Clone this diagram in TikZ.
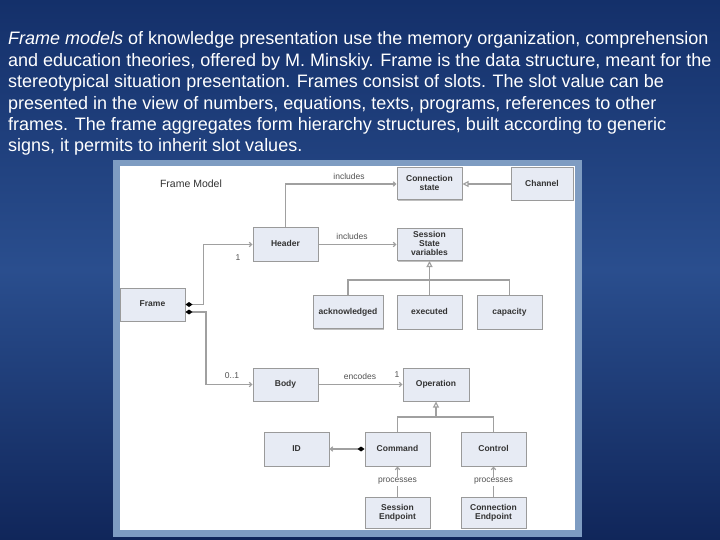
\documentclass[tikz,border=0pt]{standalone}
\usepackage{fontspec}
\setmainfont{Liberation Sans}
\usetikzlibrary{arrows.meta,shadows}
\definecolor{bgtop}{HTML}{14306A}
\definecolor{bgmid}{HTML}{2A4E8E}
\definecolor{bgbot}{HTML}{10265A}
\definecolor{panelborder}{HTML}{7E9CC2}
\definecolor{boxfill}{HTML}{E7EBF4}
\definecolor{boxline}{HTML}{9A9A9A}
\definecolor{connline}{HTML}{A0A0A0}
\definecolor{boxtext}{HTML}{333333}
\tikzset{
  umlbox/.style={draw=boxline, line width=1pt, fill=boxfill, align=center,
    inner sep=1pt, text=boxtext, font=\fontsize{8.5}{9.3}\selectfont\bfseries,
    execute at begin node={\vphantom{Ah}}, execute at end node={\vphantom{g}},
    drop shadow={shadow xshift=1pt, shadow yshift=-1pt, fill=black!25, opacity=1}},
  conn/.style={draw=connline, line width=1.1pt},
  lbl/.style={text=boxtext!85, font=\fontsize{8.5}{9.5}\selectfont, inner sep=1pt},
  mainline/.style={anchor=base west, text=white, inner sep=0pt, font=\fontsize{18}{21}\selectfont},
  smallarr/.tip={Straight Barb[length=2.5pt,width=4.5pt]},
  genarr/.tip={Triangle[open,length=6pt,width=6pt,fill=white]},
  comparr/.tip={Diamond[length=7pt,width=5pt,fill=black,color=black]}
}
\begin{document}
\begin{tikzpicture}[x=1pt,y=-1pt]
\useasboundingbox (0,0) rectangle (720,540);
\shade[top color=bgtop, bottom color=bgbot, middle color=bgmid] (0,0) rectangle (720,540);
% text
\node[mainline] (t1) at (8,45) {\textit{Frame models} of knowledge presentation use the memory organization, comprehension};
\node[mainline] (t2) at (8,66.4) {and education theories, offered by M. Minskiy. Frame is the data structure, meant for the};
\node[mainline] (t3) at (8,87.8) {stereotypical situation presentation. Frames consist of slots. The slot value can be};
\node[mainline] (t4) at (8,109.2) {presented in the view of numbers, equations, texts, programs, references to other};
\node[mainline] (t5) at (8,130.6) {frames. The frame aggregates form hierarchy structures, built according to generic};
\node[mainline] (t6) at (8,152) {signs, it permits to inherit slot values.};
% panel
\fill[panelborder] (113,160) rectangle (582,537);
\fill[white] (120,166) rectangle (575,530);
\node[lbl, font=\fontsize{10.5}{12}\selectfont, text=boxtext] (title) at (191,184) {Frame Model};
% boxes
\node[umlbox, minimum width=65, minimum height=32] (cs) at (429.5,184) {Connection\\state};
\node[umlbox, minimum width=62, minimum height=33] (ch) at (542,184) {Channel};
\node[umlbox, minimum width=65, minimum height=33] (header) at (285.5,244.5) {Header};
\node[umlbox, minimum width=65, minimum height=32] (ssv) at (429.5,244.5) {Session\\State\\variables};
\node[umlbox, minimum width=70, minimum height=33] (ack) at (348,312) {acknowledged};
\node[umlbox, minimum width=65, minimum height=34] (exe) at (429.5,312) {executed};
\node[umlbox, minimum width=65, minimum height=34] (cap) at (509.5,312) {capacity};
\node[umlbox, minimum width=65, minimum height=33] (frame) at (152.5,304.5) {Frame};
\node[umlbox, minimum width=65, minimum height=33] (body) at (285.5,384.5) {Body};
\node[umlbox, minimum width=66, minimum height=33] (op) at (436,384.5) {Operation};
\node[umlbox, minimum width=65, minimum height=34] (id) at (296.5,449) {ID};
\node[umlbox, minimum width=65, minimum height=34] (cmd) at (397.5,449) {Command};
\node[umlbox, minimum width=65, minimum height=34] (ctrl) at (493.5,449) {Control};
\node[umlbox, minimum width=65, minimum height=31] (se) at (397.5,512.5) {Session\\Endpoint};
\node[umlbox, minimum width=65, minimum height=31] (ce) at (493.5,512.5) {Connection\\Endpoint};
% connectors
\draw[conn, -{smallarr}] (header.north) |- (cs.west);
\node[lbl] (inc1) at (349,176) {includes};
\draw[conn, -{genarr}] (ch.west) -- (cs.east);
\draw[conn, -{smallarr}] (header.east) -- (ssv.west);
\node[lbl] (inc2) at (352,236) {includes};
\coordinate (busA) at (429.5,280);
\draw[conn, {genarr}-] (ssv.south) -- (busA);
\draw[conn] (ack.north) |- (busA) -| (cap.north);
\draw[conn] (busA) -- (exe.north);
\draw[conn, {comparr}-{smallarr}] (frame.east) -- ++(18,0) |- (header.west);
\node[lbl] (m1) at (238,258) {1};
\draw[conn, {comparr}-{smallarr}] ([yshift=-7.5pt]frame.east) -- ++(20.5,0) |- (body.west);
\node[lbl] (m2) at (232,376) {0..1};
\draw[conn, -{smallarr}] (body.east) -- (op.west);
\node[lbl] (enc) at (360,376) {encodes};
\node[lbl] (m3) at (397,375) {1};
\coordinate (busB) at (436,417);
\draw[conn, {genarr}-] (op.south) -- (busB);
\draw[conn] (cmd.north) |- (busB) -| (ctrl.north);
\draw[conn, {smallarr}-{comparr}] (id.east) -- (cmd.west);
\draw[conn, {smallarr}-] (cmd.south) -- node[lbl, fill=white] (p1) {processes} (se.north);
\draw[conn, {smallarr}-] (ctrl.south) -- node[lbl, fill=white] (p2) {processes} (ce.north);
\end{tikzpicture}
\end{document}
